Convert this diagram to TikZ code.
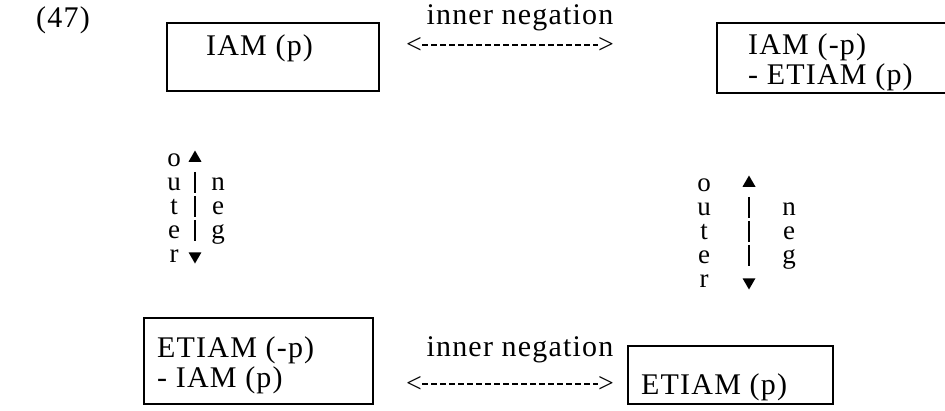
\documentclass[tikz,border=0pt]{standalone}
\usepackage{fontspec}
\setmainfont{Liberation Serif}[LetterSpace=4]
\usetikzlibrary{shapes.geometric}
\begin{document}
\begin{tikzpicture}[x=1pt,y=-1pt,
  every node/.style={font=\fontsize{30}{32}\selectfont, inner sep=0pt},
  box/.style={draw, line width=1.5pt, rectangle, anchor=north west},
  txt/.style={anchor=base west},
  let/.style={anchor=base},
  cl/.style={anchor=base, font=\fontsize{27}{27}\selectfont},
  glyph/.style={font=\fontsize{28}{30}\selectfont, inner sep=0pt},
  tri/.style={fill, regular polygon, regular polygon sides=3, inner sep=0pt, minimum size=15pt},
  dtri/.style={tri, shape border rotate=180},
  dashline/.style={line width=1.1pt, dash pattern=on 6pt off 3pt},
  vline/.style={line width=1.1pt, dash pattern=on 21pt off 3pt}
]
\useasboundingbox (0,0) rectangle (945,410);

% number
\node[txt] (num) at (36,27) {(47)};

% boxes
\node[box, minimum width=212pt, minimum height=68pt] (b1) at (166,22) {};
\node[txt] (t1) at (206,55) {IAM (p)};

\node[box, minimum width=236pt, minimum height=70pt] (b2) at (716,22) {};
\node[txt] (t2a) at (748,54) {IAM (-p)};
\node[txt] (t2b) at (748,84) {- ETIAM (p)};

\node[box, minimum width=229pt, minimum height=86pt] (b3) at (143,317) {};
\node[txt] (t3a) at (157,357) {ETIAM (-p)};
\node[txt] (t3b) at (157,387) {- IAM (p)};

\node[box, minimum width=205pt, minimum height=58pt] (b4) at (627,345) {};
\node[txt] (t4) at (641,394) {ETIAM (p)};

% horizontal arrows (inner negation)
\node[let] (lab1) at (520,24) {inner negation};
\node[glyph] (l1) at (414,45) {<};
\node[glyph] (r1) at (606,45) {>};
\draw[dashline] (l1.east) -- (r1.west);

\node[let] (lab2) at (520,356) {inner negation};
\node[glyph] (l2) at (414,384) {<};
\node[glyph] (r2) at (606,384) {>};
\draw[dashline] (l2.east) -- (r2.west);

% left vertical arrow (outer / neg)
\node[cl] (lo) at (174,166) {o};
\node[cl] (lu) at (174,190) {u};
\node[cl] (lt) at (174,214) {t};
\node[cl] (le) at (174,238) {e};
\node[cl] (lr) at (174,262) {r};
\node[cl] (ln) at (218,190) {n};
\node[cl] (le2) at (218,214) {e};
\node[cl] (lg) at (218,238) {g};
\node[tri] (lup) at (195,158) {};
\node[dtri] (ldn) at (195,256) {};
\draw[vline] ([yshift=-10pt]lup.south) -- ([yshift=10pt]ldn.north);

% right vertical arrow (outer / neg)
\node[cl] (ro) at (704,191) {o};
\node[cl] (ru) at (704,215) {u};
\node[cl] (rt) at (704,239) {t};
\node[cl] (re) at (704,263) {e};
\node[cl] (rr) at (704,287) {r};
\node[cl] (rn) at (789,215) {n};
\node[cl] (re2) at (789,239) {e};
\node[cl] (rg) at (789,263) {g};
\node[tri] (rup) at (749,183) {};
\node[dtri] (rdn) at (749,282) {};
\draw[vline] ([yshift=-10pt]rup.south) -- ([yshift=10pt]rdn.north);
\end{tikzpicture}
\end{document}
